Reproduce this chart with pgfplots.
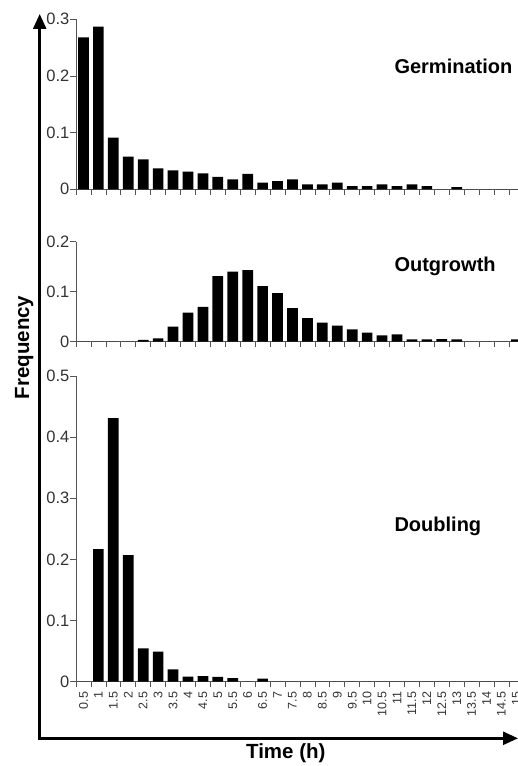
\documentclass[border=0pt]{standalone}
\usepackage{fontspec}
\setmainfont{Liberation Sans}
\usepackage{pgfplots}
\pgfplotsset{compat=1.18}
\usetikzlibrary{arrows.meta}
\definecolor{axcol}{HTML}{555555}
\definecolor{labcol}{HTML}{333333}

% frequency per half-hour bin, bins 0.5 ... 15 h at x = 0 ... 29
\pgfplotstableread{
x y
0 0.268
1 0.287
2 0.091
3 0.0575
4 0.053
5 0.037
6 0.0335
7 0.031
8 0.028
9 0.022
10 0.0176
11 0.027
12 0.0117
13 0.0146
14 0.0176
15 0.0088
16 0.0088
17 0.0116
18 0.0058
19 0.0058
20 0.0088
21 0.0058
22 0.0088
23 0.0058
24 0
25 0.004
26 0
27 0
28 0
29 0
}\germ
\pgfplotstableread{
x y
0 0
1 0
2 0
3 0
4 0.0034
5 0.0067
6 0.030
7 0.058
8 0.0694
9 0.131
10 0.140
11 0.143
12 0.111
13 0.097
14 0.067
15 0.047
16 0.038
17 0.032
18 0.0247
19 0.018
20 0.0127
21 0.0147
22 0.0047
23 0.0047
24 0.0053
25 0.0047
26 0
27 0
28 0
29 0.0047
}\outg
\pgfplotstableread{
x y
0 0
1 0.2167
2 0.431
3 0.207
4 0.0546
5 0.049
6 0.020
7 0.0082
8 0.0093
9 0.0077
10 0.006
11 0
12 0.005
13 0
14 0
15 0
16 0
17 0
18 0
19 0
20 0
21 0
22 0
23 0
24 0
25 0
26 0
27 0
28 0
29 0
}\doub

\pgfplotsset{panel/.style={
  scale only axis, width=447.9pt, enlargelimits=false,
  xmin=-0.5, xmax=29.5, ymin=0,
  axis x line*=bottom, axis y line*=left,
  axis line style={axcol, line width=0.7pt},
  ybar, bar width=10.7pt, bar shift=0pt,
  xtick={-0.5,0.5,...,29.5}, xticklabels={},
  tick align=outside, major tick length=5.5pt,
  tick style={axcol, line width=0.7pt},
  /pgf/number format/assume math mode=true,
  yticklabel style={font=\fontsize{16.5}{16.5}\selectfont, text=labcol, inner sep=1pt},
  clip=false}}

\begin{document}
\begin{tikzpicture}[x=1pt, y=1pt]
\begin{axis}[panel, at={(76pt,576.7pt)}, anchor=south west, height=170pt,
  ymax=0.3, ytick={0,0.1,0.2,0.3}, yticklabels={0,0.1,0.2,0.3}]
  \addplot[fill=black, draw=none] table[x=x, y=y] {\germ};
\end{axis}
\begin{axis}[panel, at={(76pt,424.3pt)}, anchor=south west, height=100pt,
  ymax=0.2, ytick={0,0.1,0.2}, yticklabels={0,0.1,0.2}]
  \addplot[fill=black, draw=none] table[x=x, y=y] {\outg};
\end{axis}
\begin{axis}[panel, at={(76pt,84.3pt)}, anchor=south west, height=305.7pt,
  ymax=0.5, ytick={0,0.1,0.2,0.3,0.4,0.5}, yticklabels={0,0.1,0.2,0.3,0.4,0.5},
  extra x ticks={0,...,29},
  extra x tick labels={0.5,1,1.5,2,2.5,3,3.5,4,4.5,5,5.5,6,6.5,7,7.5,8,8.5,9,9.5,10,10.5,11,11.5,12,12.5,13,13.5,14,14.5,15},
  extra x tick style={major tick length=0pt,
    xticklabel style={yshift=-10pt, rotate=90, anchor=east, inner sep=0pt,
      font=\fontsize{12.5}{12.5}\selectfont, text=labcol}}]
  \addplot[fill=black, draw=none] table[x=x, y=y] {\doub};
\end{axis}

\node[anchor=base west, font=\bfseries\fontsize{20}{20}\selectfont] at (391,692) {Germination};
\node[anchor=base west, font=\bfseries\fontsize{20}{20}\selectfont] at (391,494.3) {Outgrowth};
\node[anchor=base west, font=\bfseries\fontsize{20}{20}\selectfont] at (391,234.3) {Doubling};

\draw[line width=2.6pt, -{Triangle[length=15pt, width=13pt]}] (39.7,27.7) -- (39.7,752);
\draw[line width=2.6pt, -{Triangle[length=15pt, width=13pt]}] (38.4,27.7) -- (518,27.7);
\node[rotate=90, anchor=base, font=\bfseries\fontsize{20.5}{20.5}\selectfont] at (29,418.5) {Frequency};
\node[anchor=base, font=\bfseries\fontsize{20.5}{20.5}\selectfont] at (285.8,7.7) {Time (h)};

\pgfresetboundingbox
\path[use as bounding box] (0,0) rectangle (518,766);
\end{tikzpicture}
\end{document}
